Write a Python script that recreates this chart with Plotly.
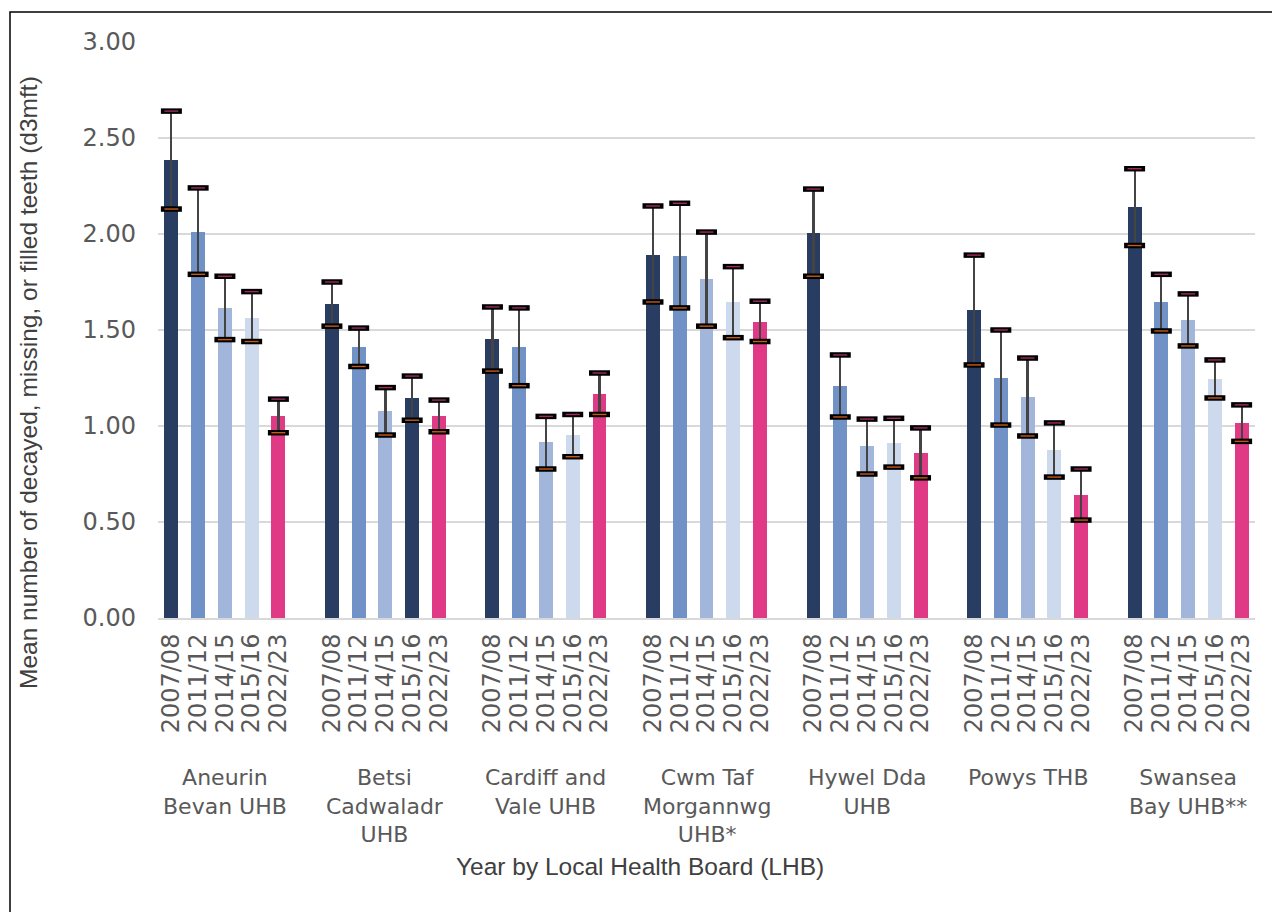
import plotly.graph_objects as go

# Local Health Boards and survey years
boards = [
    "Aneurin<br>Bevan UHB",
    "Betsi<br>Cadwaladr<br>UHB",
    "Cardiff and<br>Vale UHB",
    "Cwm Taf<br>Morgannwg<br>UHB*",
    "Hywel Dda<br>UHB",
    "Powys THB",
    "Swansea<br>Bay UHB**",
]
years = ["2007/08", "2011/12", "2014/15", "2015/16", "2022/23"]

# Mean d3mft per board, one list per board in year order
mean_aneurin = [2.385, 2.01, 1.615, 1.565, 1.05]
mean_betsi = [1.635, 1.41, 1.08, 1.145, 1.05]
mean_cardiff = [1.453, 1.41, 0.917, 0.953, 1.167]
mean_cwmtaf = [1.89, 1.885, 1.766, 1.646, 1.54]
mean_hywel = [2.005, 1.21, 0.896, 0.911, 0.859]
mean_powys = [1.604, 1.25, 1.151, 0.875, 0.64]
mean_swansea = [2.14, 1.646, 1.552, 1.245, 1.016]

# Upper 95% confidence limits
upper_aneurin = [2.64, 2.24, 1.78, 1.70, 1.14]
upper_betsi = [1.75, 1.51, 1.20, 1.26, 1.135]
upper_cardiff = [1.62, 1.615, 1.05, 1.06, 1.276]
upper_cwmtaf = [2.146, 2.16, 2.01, 1.83, 1.65]
upper_hywel = [2.234, 1.37, 1.036, 1.04, 0.99]
upper_powys = [1.89, 1.50, 1.354, 1.016, 0.776]
upper_swansea = [2.34, 1.79, 1.688, 1.344, 1.11]

# Lower 95% confidence limits
lower_aneurin = [2.13, 1.79, 1.45, 1.44, 0.965]
lower_betsi = [1.52, 1.31, 0.953, 1.03, 0.97]
lower_cardiff = [1.286, 1.21, 0.776, 0.84, 1.06]
lower_cwmtaf = [1.646, 1.615, 1.52, 1.46, 1.44]
lower_hywel = [1.78, 1.047, 0.75, 0.786, 0.73]
lower_powys = [1.318, 1.005, 0.948, 0.734, 0.51]
lower_swansea = [1.94, 1.495, 1.417, 1.146, 0.92]

means = [mean_aneurin, mean_betsi, mean_cardiff, mean_cwmtaf,
         mean_hywel, mean_powys, mean_swansea]
uppers = [upper_aneurin, upper_betsi, upper_cardiff, upper_cwmtaf,
          upper_hywel, upper_powys, upper_swansea]
lowers = [lower_aneurin, lower_betsi, lower_cardiff, lower_cwmtaf,
          lower_hywel, lower_powys, lower_swansea]

year_colors = ["#283D61", "#7192C6", "#A2B6DB", "#CDD9EC", "#E03A86"]
# Betsi Cadwaladr's 2015/16 bar is shown in the dark navy shade
bar_colors_override = {(1, 3): "#283D61"}

TEXT = "#595959"
SLOTS = len(years) + 1  # five bars plus one empty slot between boards

xs, ys, err_up, err_dn, cols, ticks, tick_text = [], [], [], [], [], [], []
for g, (m, u, l) in enumerate(zip(means, uppers, lowers)):
    for j, yr in enumerate(years):
        x = g * SLOTS + j
        xs.append(x)
        ys.append(m[j])
        err_up.append(u[j] - m[j])
        err_dn.append(m[j] - l[j])
        cols.append(bar_colors_override.get((g, j), year_colors[j]))
        ticks.append(x)
        tick_text.append(yr)

up_y = [y + e for y, e in zip(ys, err_up)]
dn_y = [y - e for y, e in zip(ys, err_dn)]

fig = go.Figure()
fig.add_trace(go.Bar(
    x=xs, y=ys, width=0.52,
    marker=dict(color=cols, line=dict(width=0)),
    error_y=dict(type="data", symmetric=False, array=err_up,
                 arrayminus=err_dn, color="#444444", thickness=2.2, width=0),
    hoverinfo="x+y", showlegend=False,
))

# End caps of the confidence intervals: black bar with a coloured centre line
for cap_y, inner in ((up_y, "#9E2C60"), (dn_y, "#C55A1B")):
    fig.add_trace(go.Scatter(
        x=xs, y=cap_y, mode="markers", showlegend=False, hoverinfo="skip",
        marker=dict(symbol="line-ew", size=15,
                    line=dict(color="#000000", width=5.5)),
    ))
    fig.add_trace(go.Scatter(
        x=xs, y=cap_y, mode="markers", showlegend=False, hoverinfo="skip",
        marker=dict(symbol="line-ew", size=10,
                    line=dict(color=inner, width=1.4)),
    ))

# Board names beneath the year labels
for g, name in enumerate(boards):
    fig.add_annotation(
        x=g * SLOTS + (len(years) - 1) / 2, xref="x",
        y=(618 - 763) / 576, yref="paper", yanchor="top",
        text=name, showarrow=False, align="center",
        font=dict(family="DejaVu Sans", size=22, color=TEXT),
    )

fig.add_annotation(
    x=(640 - 158) / 1097, xref="paper", y=(618 - 866) / 576, yref="paper",
    yanchor="middle", xanchor="center",
    text="Year by Local Health Board (LHB)", showarrow=False,
    font=dict(family="Liberation Sans", size=24.5, color="#404040"),
)
fig.add_annotation(
    x=(28 - 158) / 1097, xref="paper", y=(618 - 383) / 576, yref="paper",
    yanchor="middle", xanchor="center",
    text="Mean number of decayed, missing, or filled teeth (d3mft)",
    textangle=-90, showarrow=False,
    font=dict(family="Liberation Sans", size=24.5, color="#404040"),
)

# Outer frame around the chart
fig.add_shape(
    type="rect", xref="paper", yref="paper",
    x0=(10 - 158) / 1097, x1=(1290 - 158) / 1097,
    y0=(618 - 930) / 576, y1=(618 - 12) / 576,
    line=dict(color="#000000", width=1.5), layer="above",
)

fig.update_layout(
    width=1272, height=912,
    margin=dict(l=158, r=17, t=42, b=294),
    paper_bgcolor="#FFFFFF", plot_bgcolor="#FFFFFF",
    bargap=0,
    xaxis=dict(
        range=[-0.5, len(boards) * SLOTS - 1.5],
        tickmode="array", tickvals=ticks, ticktext=tick_text,
        tickangle=-90, showgrid=False, zeroline=False,
        showline=True, linecolor="#D9D9D9", linewidth=2,
        tickfont=dict(family="DejaVu Sans", size=24, color=TEXT),
        ticklabelstandoff=4,
    ),
    yaxis=dict(
        range=[0, 3.0], tickmode="array",
        tickvals=[0, 0.5, 1.0, 1.5, 2.0, 2.5, 3.0], tickformat=".2f",
        showgrid=True, gridcolor="#D9D9D9", gridwidth=2,
        zeroline=False, showline=False,
        tickfont=dict(family="DejaVu Sans", size=24, color=TEXT),
        ticklabelstandoff=21,
    ),
)

fig.write_html("out.html")
